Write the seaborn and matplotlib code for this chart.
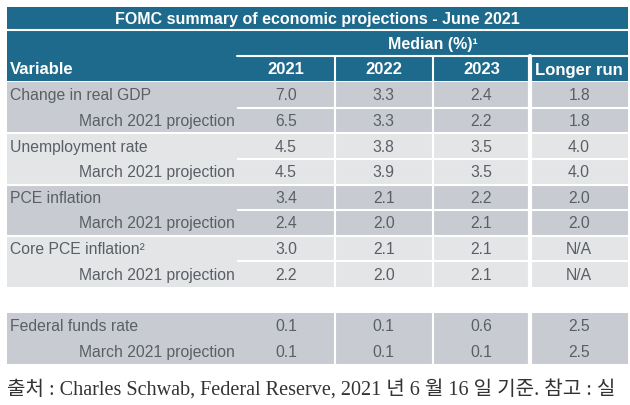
import numpy as np
import pandas as pd
import matplotlib
matplotlib.use("Agg")
import matplotlib.pyplot as plt
import seaborn as sns
from matplotlib.colors import ListedColormap
from matplotlib.patches import Rectangle

# --- table content ---
title = "FOMC summary of economic projections - June 2021"
median_label = "Median (%)\u00b9"
first_col = "Variable"
years = ["2021", "2022", "2023", "Longer run"]
row_labels = ["Change in real GDP", "March 2021 projection",
              "Unemployment rate", "March 2021 projection",
              "PCE inflation", "March 2021 projection",
              "Core PCE inflation\u00b2", "March 2021 projection",
              "Federal funds rate", "March 2021 projection"]
is_sub = [False, True] * 5
v2021 = [7.0, 6.5, 4.5, 4.5, 3.4, 2.4, 3.0, 2.2, 0.1, 0.1]
v2022 = [3.3, 3.3, 3.8, 3.9, 2.1, 2.0, 2.1, 2.0, 0.1, 0.1]
v2023 = [2.4, 2.2, 3.5, 3.5, 2.2, 2.1, 2.1, 2.1, 0.6, 0.1]
vlong = [1.8, 1.8, 4.0, 4.0, 2.0, 2.0, np.nan, np.nan, 2.5, 2.5]
group = [0, 0, 1, 1, 2, 2, 3, 3, 4, 4]
gap_before = 8   # blank row before the fed funds block
source = "출처 : Charles Schwab, Federal Reserve, 2021 년 6 월 16 일 기준. 참고 : 실"

# --- style ---
TEAL = "#1d6a8c"
DARK = "#c8ccd2"
LIGHT = "#e3e5e7"
TXT = "#5a5f66"
SANS = "Liberation Sans"

sns.set_theme(style="white")
plt.rcParams["font.family"] = [SANS, "DejaVu Sans"]

# geometry in pixels (figure 630 x 406)
W, H = 630, 406
left, split, right = 7, 237, 628
head_top, head_bot = 8, 82
body_top, body_bot = 83, 365

# --- build grid (with blank row) ---
vals = pd.DataFrame(dict(zip(years, [v2021, v2022, v2023, vlong])))
shade = (pd.Series(group) % 2).astype(float).to_numpy()
shade_grid = np.repeat(shade[:, None], len(years), axis=1)
annot = vals.map(lambda v: "N/A" if pd.isna(v) else f"{v:.1f}").to_numpy()
shade_grid = np.insert(shade_grid, gap_before, np.nan, axis=0)
annot = np.insert(annot, gap_before, "", axis=0)
labels = list(row_labels)
labels.insert(gap_before, "")
subs = list(is_sub)
subs.insert(gap_before, False)
cmap = ListedColormap([DARK, LIGHT])

fig = plt.figure(figsize=(W / 100, H / 100), dpi=100)
ax0 = fig.add_axes([0, 0, 1, 1])
ax0.set_xlim(0, W)
ax0.set_ylim(H, 0)
ax0.set_axis_off()

# header block
ax0.add_patch(Rectangle((left, head_top), right - left, head_bot - head_top, color=TEAL, lw=0))
ax0.plot([left, right], [31, 31], color="white", lw=1.5)
ax0.plot([split, right], [56.5, 56.5], color="white", lw=1.5)
col_w = (right - split) / len(years)
for k in range(1, len(years)):
    ax0.plot([split + k * col_w] * 2, [56.5, head_bot], color="white",
             lw=3 if k == len(years) - 1 else 1.5)
ax0.text((left + right) / 2, 19.5, title, color="white", fontsize=11.5,
         fontweight="bold", ha="center", va="center")
ax0.text((split + right) / 2, 44, median_label, color="white", fontsize=11.5,
         fontweight="bold", ha="center", va="center")
ax0.text(left + 3, 70, first_col, color="white", fontsize=12,
         fontweight="bold", ha="left", va="center")
for k, y in enumerate(years):
    ax0.text(split + (k + 0.5) * col_w, 70, y, color="white", fontsize=12,
             fontweight="bold", ha="center", va="center")

# value cells
axv = fig.add_axes([split / W, 1 - body_bot / H, (right - split) / W, (body_bot - body_top) / H])
sns.heatmap(shade_grid, mask=np.isnan(shade_grid), cmap=cmap, vmin=0, vmax=1,
            cbar=False, annot=annot, fmt="", xticklabels=False, yticklabels=False,
            annot_kws={"color": TXT, "fontsize": 11.3}, ax=axv)
axv.set_axis_off()
for b in range(1, gap_before):
    axv.axhline(b, color="white", lw=1.5)
for k in range(1, len(years)):
    axv.axvline(k, color="white", lw=3 if k == len(years) - 1 else 1.5)

# label column
axl = fig.add_axes([left / W, 1 - body_bot / H, (split - left) / W, (body_bot - body_top) / H])
sns.heatmap(shade_grid[:, :1], mask=np.isnan(shade_grid[:, :1]), cmap=cmap, vmin=0, vmax=1,
            cbar=False, xticklabels=False, yticklabels=False, ax=axl)
axl.set_axis_off()
for b in range(2, gap_before, 2):
    axl.axhline(b, color="white", lw=1.5)
for i, (lab, sub) in enumerate(zip(labels, subs)):
    if not lab:
        continue
    if sub:
        axl.text(0.99, i + 0.5, lab, color=TXT, fontsize=11.3, ha="right", va="center")
    else:
        axl.text(0.013, i + 0.5, lab, color=TXT, fontsize=11.3, ha="left", va="center")

# source line (runs off the right edge like the original crop)
ax0.text(7, 391, source, fontsize=14.5, color="#333333", ha="left", va="center",
         family=["Liberation Serif", "Noto Sans CJK KR"])

fig.savefig("out.png", dpi=100)
